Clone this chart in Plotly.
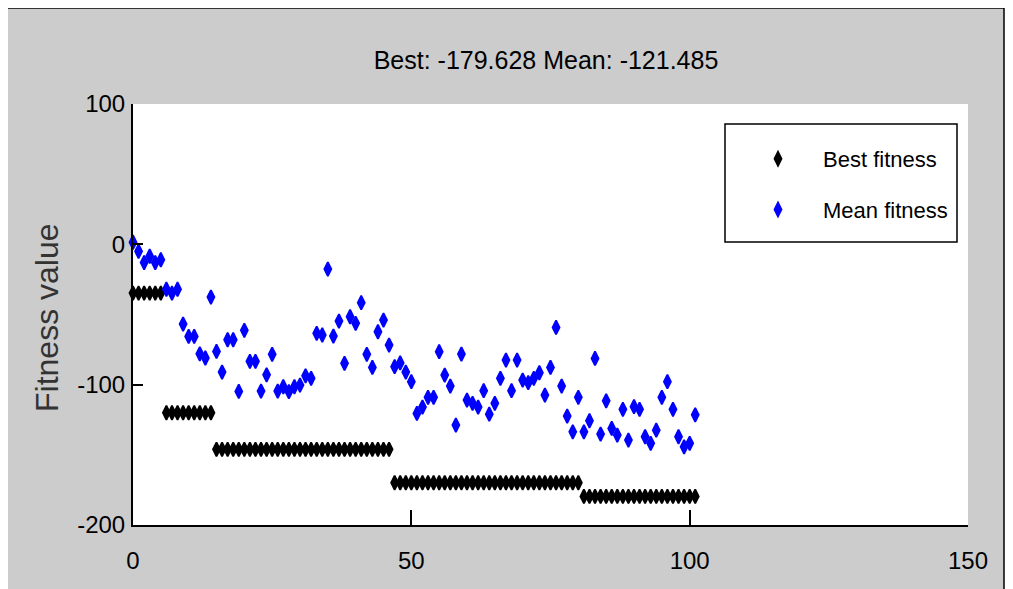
import plotly.graph_objects as go

generations = list(range(0, 102))

best_fitness = [
    -34.7, -34.7, -34.7, -34.7, -34.7, -34.7,
    -120.0, -120.0, -120.0, -120.0, -120.0, -120.0, -120.0, -120.0, -120.0,
    -146.1, -146.1, -146.1, -146.1, -146.1, -146.1, -146.1, -146.1,
    -146.1, -146.1, -146.1, -146.1, -146.1, -146.1, -146.1, -146.1,
    -146.1, -146.1, -146.1, -146.1, -146.1, -146.1, -146.1, -146.1,
    -146.1, -146.1, -146.1, -146.1, -146.1, -146.1, -146.1, -146.1,
    -169.9, -169.9, -169.9, -169.9, -169.9, -169.9, -169.9, -169.9,
    -169.9, -169.9, -169.9, -169.9, -169.9, -169.9, -169.9, -169.9,
    -169.9, -169.9, -169.9, -169.9, -169.9, -169.9, -169.9, -169.9,
    -169.9, -169.9, -169.9, -169.9, -169.9, -169.9, -169.9, -169.9,
    -169.9, -169.9,
    -179.628, -179.628, -179.628, -179.628, -179.628, -179.628, -179.628,
    -179.628, -179.628, -179.628, -179.628, -179.628, -179.628, -179.628,
    -179.628, -179.628, -179.628, -179.628, -179.628, -179.628, -179.628,
]

mean_fitness = [
    1.5, -5, -13, -8.5, -13, -11, -32, -34.7, -32, -56.8,
    -65.6, -65.6, -78, -81, -37.6, -76.3, -91, -68, -68, -104.8,
    -61.3, -83.4, -83.4, -104.6, -93, -78.4, -104.6, -101.5, -105, -101.5,
    -100.3, -93.7, -95.5, -63.4, -64.6, -17.6, -65.4, -54.7, -84.8, -51.6,
    -56.3, -41.6, -78.4, -87.7, -62.3, -54, -71.8, -87.2, -84.5, -91,
    -97.9, -120.5, -116, -109, -109, -76.5, -93.2, -101, -128.8, -78.2,
    -111, -113.3, -116, -104.3, -121, -113.3, -95.5, -82.5, -104.3, -82.5,
    -96.7, -98.6, -95.5, -91.5, -107.4, -87.7, -59.2, -101, -122.4, -133.6,
    -109, -133.6, -125.7, -81.3, -135.2, -111.5, -131.2, -135.9, -117.6, -139.5,
    -115.7, -117.6, -137.1, -141.8, -132.4, -109, -97.9, -117.6, -137.1, -144.3,
    -141.8, -121.485,
]

x_ticks = [0, 50, 100, 150]
x_tick_labels = ["0", "50", "100", "150"]
y_ticks = [-200, -100, 0, 100]
y_tick_labels = ["-200", "-100", "0", "100"]
title_text = "Best: -179.628 Mean: -121.485"
series_names = ["Best fitness", "Mean fitness"]

FONT = "Liberation Sans, Arial, Helvetica, sans-serif"

# page body has an 8px margin; figure occupies the rest of the window
OFF = 8
W, H = 1013 - OFF, 589 - OFF
L, R, T, B = 125, 45, 96, 64
pw, ph = W - L - R, H - T - B


def px_x(p):  # reference-image pixel -> paper x
    return (p - OFF - L) / pw


def px_y(p):  # reference-image pixel -> paper y
    return (H - B - (p - OFF)) / ph


fig = go.Figure()
fig.add_trace(go.Scatter(
    x=generations, y=best_fitness, mode="markers", name=series_names[0],
    legendgroup="a",
    marker=dict(symbol="diamond-tall", size=10, color="black",
                line=dict(color="black", width=1.8)),
    cliponaxis=False,
))
fig.add_trace(go.Scatter(
    x=generations, y=mean_fitness, mode="markers", name=series_names[1],
    legendgroup="b",
    marker=dict(symbol="diamond-tall", size=10, color="#0000ff",
                line=dict(color="#0000ff", width=1.8)),
    cliponaxis=False,
))

fig.update_layout(
    width=W, height=H,
    margin=dict(l=L, r=R, t=T, b=B, pad=0),
    paper_bgcolor="white",
    plot_bgcolor="white",
    showlegend=True,
    title=dict(text=title_text, x=px_x(546), xref="paper", xanchor="center",
               y=1 - (60 - OFF) / H, yref="container", yanchor="middle",
               font=dict(family=FONT, size=25, color="black")),
    xaxis=dict(range=[0, 150], tickvals=x_ticks, ticktext=x_tick_labels,
               ticks="inside", ticklen=15,
               tickwidth=1.5, tickcolor="black", showline=True, linecolor="black",
               linewidth=2, showgrid=False, zeroline=False, mirror=False,
               ticklabelstandoff=13,
               tickfont=dict(family=FONT, size=24, color="black")),
    yaxis=dict(range=[-200, 100], tickvals=y_ticks, ticktext=y_tick_labels,
               ticks="inside", ticklen=10,
               tickwidth=1.5, tickcolor="black", showline=True, linecolor="black",
               linewidth=2, showgrid=False, zeroline=False, mirror=False,
               ticklabelstandoff=1,
               tickfont=dict(family=FONT, size=24, color="black")),
    legend=dict(x=px_x(733), y=px_y(138), xanchor="left", yanchor="top",
                bgcolor="rgba(0,0,0,0)", borderwidth=0,
                font=dict(family=FONT, size=22, color="black"),
                itemwidth=80, tracegroupgap=19),
    shapes=[
        dict(type="rect", xref="paper", yref="paper", layer="below",
             x0=px_x(7), x1=px_x(1004), y0=px_y(600), y1=px_y(8),
             fillcolor="#cccccc", line=dict(color="black", width=1.5)),
        dict(type="rect", xref="paper", yref="paper", layer="below",
             x0=0, x1=1, y0=0, y1=1, fillcolor="white", line=dict(width=0)),
        dict(type="rect", xref="paper", yref="paper", layer="above",
             x0=px_x(725), x1=px_x(957), y0=px_y(242), y1=px_y(124),
             fillcolor="white", line=dict(color="black", width=1.5)),
    ],
    annotations=[
        dict(text="Fitness value", xref="paper", yref="paper",
             x=px_x(47), y=px_y(318), xanchor="center", yanchor="middle",
             textangle=-90, showarrow=False,
             font=dict(family=FONT, size=32, color="#333333")),
    ],
)

fig.write_html("out.html")
